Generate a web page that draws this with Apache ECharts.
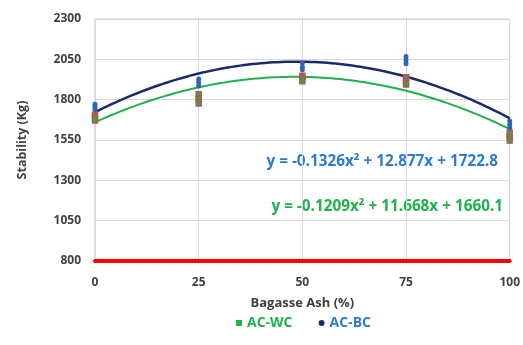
<!DOCTYPE html>
<html>
<head>
<meta charset="utf-8">
<script src="https://cdn.jsdelivr.net/npm/echarts@6/dist/echarts.min.js"></script>
<style>
html,body{margin:0;padding:0;background:#fff;}
#chart{width:523px;height:345px;}
</style>
</head>
<body>
<div id="chart"></div>
<script>
// Bagasse ash replacement levels (%)
const ashLevels = [0, 25, 50, 75, 100];
// Marshall stability replicates (Kg) per ash level
const acWcValues = [
  [1705, 1690, 1675],
  [1830, 1805, 1780],
  [1945, 1930, 1918],
  [1935, 1915, 1898],
  [1592, 1570, 1550]
];
const acBcValues = [
  [1772, 1756, 1740],
  [1928, 1906, 1885],
  [2028, 2003, 1985],
  [2068, 2046, 2022],
  [1667, 1646, 1626]
];
// Polynomial trendline coefficients [a, b, c] for y = a*x^2 + b*x + c
const acWcFit = [-0.1209, 11.668, 1660.1];
const acBcFit = [-0.1326, 12.877, 1722.8];
const yTicks = [800, 1050, 1300, 1550, 1800, 2050, 2300];
const xTicks = [0, 25, 50, 75, 100];

const WC_GREEN = '#1fb14a';
const WC_EDGE = '#c0504d';
const BC_BLUE = '#2e64b0';
const BC_LINE = '#1b2a6b';
const EQ_BLUE = '#2e7bd0';

function points(levels, reps) {
  const out = [];
  levels.forEach((x, i) => reps[i].forEach(v => out.push([x, v])));
  return out;
}
function curve(coef) {
  const out = [];
  for (let x = 0; x <= 100; x += 1) {
    out.push([x, coef[0] * x * x + coef[1] * x + coef[2]]);
  }
  return out;
}
function eqText(coef) {
  return 'y = ' + coef[0] + 'x\u00B2 + ' + coef[1] + 'x + ' + coef[2];
}

const FONT = 'Open Sans';
const chart = echarts.init(document.getElementById('chart'));
chart.setOption({
  animation: false,
  grid: {
    left: 95, right: 13, top: 19, bottom: 84,
    show: true, borderColor: '#b4c7e7', borderWidth: 1, backgroundColor: 'transparent'
  },
  xAxis: {
    type: 'value', min: xTicks[0], max: xTicks[xTicks.length - 1], interval: 25,
    name: 'Bagasse Ash (%)', nameLocation: 'middle', nameGap: 36,
    nameTextStyle: { fontFamily: FONT, fontWeight: 'bold', fontSize: 13, color: '#404040' },
    axisLine: { show: true, onZero: false, lineStyle: { color: '#ff0000', width: 4 } },
    axisTick: { show: false },
    axisLabel: { fontFamily: FONT, fontWeight: 'bold', fontSize: 12, color: '#404040', margin: 16 },
    splitLine: { show: true, lineStyle: { color: '#d9d9d9', width: 1 } }
  },
  yAxis: {
    type: 'value', min: yTicks[0], max: yTicks[yTicks.length - 1], interval: 250,
    name: 'Stability (Kg)', nameLocation: 'middle', nameGap: 66, nameRotate: 90,
    nameTextStyle: { fontFamily: FONT, fontWeight: 'bold', fontSize: 12.5, color: '#404040' },
    axisLine: { show: false },
    axisTick: { show: false },
    axisLabel: {
      fontFamily: FONT, fontWeight: 'bold', fontSize: 12, color: '#404040', margin: 14,
      formatter: v => String(v)
    },
    splitLine: { show: true, lineStyle: { color: '#d9d9d9', width: 1 } }
  },
  legend: {
    bottom: 10, left: 231, itemGap: 26, itemWidth: 6, itemHeight: 6,
    textStyle: { fontFamily: FONT, fontWeight: 'bold', fontSize: 14 },
    data: [
      { name: 'AC-WC', icon: 'rect', itemStyle: { color: WC_GREEN, borderWidth: 0 }, textStyle: { color: WC_GREEN } },
      { name: 'AC-BC', icon: 'circle', itemStyle: { color: BC_LINE, borderWidth: 0 }, textStyle: { color: EQ_BLUE } }
    ]
  },
  graphic: [
    { type: 'text', right: 25, top: 154, style: { text: eqText(acBcFit), fill: EQ_BLUE, font: 'bold 15.3px "Open Sans"' } },
    { type: 'text', right: 20, top: 199, style: { text: eqText(acWcFit), fill: WC_GREEN, font: 'bold 15.3px "Open Sans"' } }
  ],
  series: [
    {
      name: 'AC-WC trend', type: 'line', data: curve(acWcFit), showSymbol: false, smooth: false,
      lineStyle: { color: WC_GREEN, width: 2 }, z: 3, silent: true
    },
    {
      name: 'AC-BC trend', type: 'line', data: curve(acBcFit), showSymbol: false, smooth: false,
      lineStyle: { color: BC_LINE, width: 2.5 }, z: 3, silent: true
    },
    {
      name: 'AC-WC', type: 'scatter', data: points(ashLevels, acWcValues),
      symbol: 'rect', symbolSize: [5, 6],
      itemStyle: { color: WC_GREEN, borderColor: WC_EDGE, borderWidth: 1.5, opacity: 1 }, z: 4
    },
    {
      name: 'AC-BC', type: 'scatter', data: points(ashLevels, acBcValues),
      symbol: 'circle', symbolSize: 5,
      itemStyle: { color: BC_BLUE, opacity: 1 }, z: 5
    }
  ]
});
</script>
</body>
</html>
